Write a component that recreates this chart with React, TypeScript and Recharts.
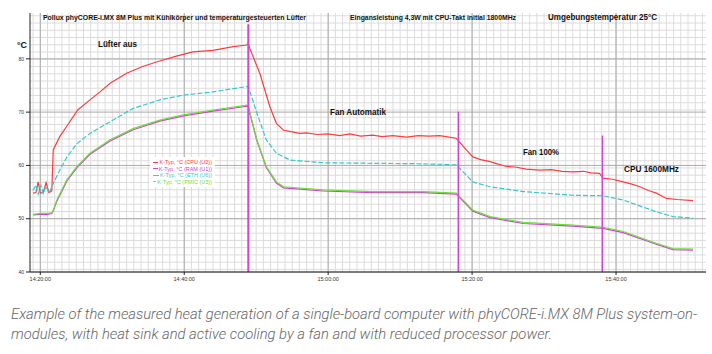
import React from 'react';
import {
  ComposedChart,
  Line,
  XAxis,
  YAxis,
  ReferenceLine,
  Legend
} from 'recharts';

// minutes since 14:20:00
const cpuTime = [-1.0, -0.6, -0.3, 0.0, 0.4, 0.8, 1.2, 1.6, 1.8, 2.7, 3.7, 5.2, 6.9, 8.3, 9.7, 12.0, 14.3, 16.6, 18.9, 21.2, 24.0, 26.8, 28.7, 28.9, 29.1, 30.5, 31.9, 32.8, 33.8, 35.0, 36.0, 37.0, 38.5, 40.0, 41.6, 43.0, 44.5, 46.2, 47.5, 49.0, 50.9, 52.5, 54.0, 55.5, 56.8, 57.8, 59.2, 60.1, 61.2, 62.5, 63.5, 64.8, 66.0, 67.5, 69.4, 71.0, 72.5, 74.0, 75.5, 76.5, 77.7, 78.2, 79.5, 81.0, 82.2, 83.3, 84.5, 85.6, 87.0, 88.5, 90.7];
const cpuTemp = [54.8, 54.9, 56.9, 54.8, 54.9, 56.8, 54.9, 55.2, 62.9, 65.4, 67.4, 70.4, 72.3, 73.8, 75.4, 77.3, 78.6, 79.6, 80.5, 81.3, 81.6, 82.3, 82.6, 82.9, 82.0, 77.3, 71.0, 67.9, 66.6, 66.3, 66.0, 66.1, 65.8, 65.9, 65.6, 65.9, 65.5, 65.7, 65.4, 65.6, 65.3, 65.6, 65.5, 65.6, 65.3, 65.1, 62.9, 61.6, 61.1, 60.7, 60.3, 59.8, 59.7, 59.3, 59.1, 59.2, 58.9, 58.8, 58.9, 58.6, 58.5, 57.6, 57.4, 56.9, 56.5, 56.0, 55.3, 54.8, 53.8, 53.6, 53.4];

const ethTime = [-1.0, -0.6, -0.3, 0.1, 0.4, 0.8, 1.2, 1.6, 1.8, 2.7, 3.7, 5.1, 6.9, 9.7, 12.9, 16.6, 19.9, 24.0, 28.7, 28.9, 30.1, 31.4, 32.8, 34.7, 39.3, 46.2, 53.2, 57.8, 60.1, 62.5, 67.1, 74.0, 78.2, 81.0, 85.6, 87.9, 90.7];
const ethTemp = [55.3, 56.3, 54.6, 56.2, 54.7, 56.1, 54.8, 55.9, 56.6, 59.1, 61.6, 64.1, 66.0, 68.2, 70.7, 72.3, 73.2, 73.8, 74.8, 74.8, 69.8, 64.8, 62.3, 61.0, 60.5, 60.4, 60.3, 60.1, 56.9, 56.0, 55.1, 54.4, 54.3, 53.5, 51.3, 50.4, 50.1];

const boardTime = [-1.0, 0.0, 1.0, 1.6, 1.8, 2.3, 3.7, 5.1, 6.9, 9.7, 12.9, 16.6, 19.9, 24.0, 28.7, 28.9, 30.1, 31.4, 32.8, 33.8, 39.3, 46.2, 53.2, 57.8, 60.1, 62.5, 67.1, 74.0, 78.2, 81.0, 85.6, 87.9, 90.7];
const ramTemp = [50.7, 50.8, 50.8, 51.0, 51.5, 53.3, 57.1, 59.6, 62.1, 64.6, 66.7, 68.3, 69.3, 70.2, 71.1, 70.9, 64.6, 59.6, 56.7, 55.8, 55.2, 54.9, 54.9, 54.6, 51.4, 50.2, 49.1, 48.6, 48.2, 47.4, 45.2, 44.2, 44.1];
const pmicTemp = [50.8, 51.0, 51.0, 51.1, 51.6, 53.5, 57.3, 59.8, 62.3, 64.8, 66.9, 68.5, 69.5, 70.4, 71.3, 71.1, 64.8, 59.8, 56.9, 56.0, 55.4, 55.1, 55.1, 54.8, 51.6, 50.4, 49.3, 48.8, 48.4, 47.6, 45.4, 44.4, 44.3];

const seriesNames = ['K-Typ, °C (CPU (U2))', 'K-Typ, °C (RAM (U1))', 'K-Typ, °C (ETH (U6))', 'K-Typ, °C (PMIC (U3))'];
const seriesColors = ['#ff3b3b', '#cc44cc', '#36c8cc', '#6ddc3c'];

const xTicks = [0, 20, 40, 60, 80];
const xTickLabels = ['14:20:00', '14:40:00', '15:00:00', '15:20:00', '15:40:00'];
const yTicks = [40, 50, 60, 70, 80];

// phase markers: [minute, top temperature]
const markerTime = [28.9, 58.1, 78.1];
const markerTop = [86.5, 70.1, 65.6];

const headerTexts = [
  { text: 'Pollux phyCORE-i.MX 8M Plus mit Kühlkörper und temperaturgesteuerten Lüfter', x: 43, y: 20, size: 8, len: 263 },
  { text: 'Eingansleistung 4,3W mit CPU-Takt initial 1800MHz', x: 350, y: 20, size: 8, len: 166 },
  { text: 'Umgebungstemperatur 25°C', x: 548, y: 20, size: 9, len: 109 },
  { text: '°C', x: 17, y: 48, size: 9.5, len: 10 },
  { text: 'Lüfter aus', x: 98, y: 47, size: 9.5, len: 39 },
  { text: 'Fan Automatik', x: 330, y: 115, size: 9, len: 56 },
  { text: 'Fan 100%', x: 523, y: 155, size: 9, len: 36 },
  { text: 'CPU 1600MHz', x: 624, y: 172, size: 9, len: 55 }
];

const caption = [
  'Example of the measured heat generation of a single-board computer with phyCORE-i.MX 8M Plus system-on-',
  'modules, with heat sink and active cooling by a fan and with reduced processor power.'
];

const toPoints = (time: number[], temp: number[]) => time.map((t, i) => ({ t, v: temp[i] }));

// background grid (1 minute columns, ~1.36 °C rows)
const minorX: number[] = [];
for (let m = -1; m <= 92; m += 1) minorX.push(m);
const minorY: number[] = [];
for (let v = 50 - 1.36 * 7; v < 88.6; v += 1.36) minorY.push(Math.round(v * 100) / 100);
const axisMinorX: number[] = [];
for (let m = -1; m <= 92; m += 2) axisMinorX.push(m);
const axisMinorY: number[] = minorY.filter(v => v > 40.5);

function LegendBox({ payload }: any) {
  const items = seriesNames.map(n => (payload || []).find((p: any) => p.value === n)).filter(Boolean);
  return (
    <div style={{ background: '#fff', padding: '2px 3px', width: 59, fontFamily: 'Liberation Sans, Arial, sans-serif', fontSize: 5.5, lineHeight: '6.5px' }}>
      {items.map((p: any) => (
        <div key={p.value} style={{ display: 'flex', alignItems: 'center', color: p.color, whiteSpace: 'nowrap' }}>
          <span style={{ display: 'inline-block', width: 6, height: 0, borderTop: `1.2px solid ${p.color}`, marginRight: 1 }} />
          {p.value}
        </div>
      ))}
    </div>
  );
}

export default function App() {
  const lines = [
    toPoints(cpuTime, cpuTemp),
    toPoints(boardTime, ramTemp),
    toPoints(ethTime, ethTemp),
    toPoints(boardTime, pmicTemp)
  ];
  const dashes = [undefined, undefined, '5 2', undefined];

  return (
    <div style={{ position: 'absolute', left: 0, top: 0, width: 712, height: 354, background: '#fff', overflow: 'hidden' }}>
      <ComposedChart width={712} height={290} margin={{ top: 13, right: 6, left: 0, bottom: 0 }}>
        {minorX.map(m => (
          <ReferenceLine key={'gx' + m} x={m} stroke="#dcdcdc" strokeWidth={1} />
        ))}
        {minorY.map(v => (
          <ReferenceLine key={'gy' + v} y={v} stroke="#dcdcdc" strokeWidth={1} />
        ))}
        {xTicks.map(m => (
          <ReferenceLine key={'mx' + m} x={m} stroke="#aaaaaa" strokeWidth={1} />
        ))}
        {yTicks.map(v => (
          <ReferenceLine key={'my' + v} y={v} stroke="#aaaaaa" strokeWidth={1} />
        ))}
        <XAxis
          xAxisId={0}
          dataKey="t"
          type="number"
          domain={[-1.43, 92.5]}
          ticks={xTicks}
          allowDataOverflow
          tickFormatter={(v: number) => xTickLabels[xTicks.indexOf(v)]}
          tick={{ fontSize: 5.5, fill: '#333', fontFamily: 'Liberation Sans, Arial, sans-serif' }}
          tickSize={3}
          axisLine={{ stroke: '#222', strokeWidth: 1 }}
          tickLine={{ stroke: '#222' }}
          height={18}
        />
        <XAxis
          xAxisId="minor"
          dataKey="t"
          type="number"
          domain={[-1.43, 92.5]}
          ticks={axisMinorX}
          allowDataOverflow
          tickFormatter={() => ''}
          tickSize={2}
          axisLine={false}
          tickLine={{ stroke: '#222' }}
          height={0}
        />
        <YAxis
          yAxisId={0}
          type="number"
          domain={[40, 88.6]}
          ticks={yTicks}
          allowDataOverflow
          tick={{ fontSize: 5, fill: '#333', fontFamily: 'Liberation Sans, Arial, sans-serif' }}
          tickSize={4}
          axisLine={{ stroke: '#222', strokeWidth: 1 }}
          tickLine={{ stroke: '#222' }}
          width={30}
        />
        <YAxis
          yAxisId="minor"
          type="number"
          domain={[40, 88.6]}
          ticks={axisMinorY}
          allowDataOverflow
          tickFormatter={() => ''}
          tickSize={2}
          axisLine={false}
          tickLine={{ stroke: '#222' }}
          width={0}
        />
        {lines.map((d, i) => (
          <Line
            key={seriesNames[i]}
            data={d}
            dataKey="v"
            name={seriesNames[i]}
            stroke={seriesColors[i]}
            strokeWidth={1.2}
            strokeDasharray={dashes[i]}
            dot={false}
            type="linear"
            isAnimationActive={false}
          />
        ))}
        {markerTime.map((t, i) => (
          <ReferenceLine
            key={'mk' + t}
            segment={[{ x: t, y: 40 }, { x: t, y: markerTop[i] }]}
            stroke="#d943d9"
            strokeWidth={i === 0 ? 2 : 1.5}
          />
        ))}
        <Legend
          layout="vertical"
          align="center"
          verticalAlign="middle"
          content={<LegendBox />}
          wrapperStyle={{ position: 'absolute', left: 150, top: 157, width: 65 }}
        />
      </ComposedChart>
      <svg width={712} height={354} style={{ position: 'absolute', left: 0, top: 0, pointerEvents: 'none' }}>
        {headerTexts.map(h => (
          <text
            key={h.text}
            x={h.x}
            y={h.y}
            fontSize={h.size}
            fontWeight="bold"
            fontFamily="Liberation Sans, Arial, sans-serif"
            fill="#111"
            textLength={h.len}
            lengthAdjust="spacingAndGlyphs"
          >
            {h.text}
          </text>
        ))}
        {caption.map((c, i) => (
          <text
            key={i}
            x={11}
            y={319 + i * 20}
            fontSize={14}
            fontStyle="italic"
            fontWeight={300}
            fontFamily="Roboto, 'Open Sans', sans-serif"
            fill="#666"
            textLength={i === 0 ? 686 : 541}
            lengthAdjust="spacingAndGlyphs"
          >
            {c}
          </text>
        ))}
      </svg>
    </div>
  );
}
